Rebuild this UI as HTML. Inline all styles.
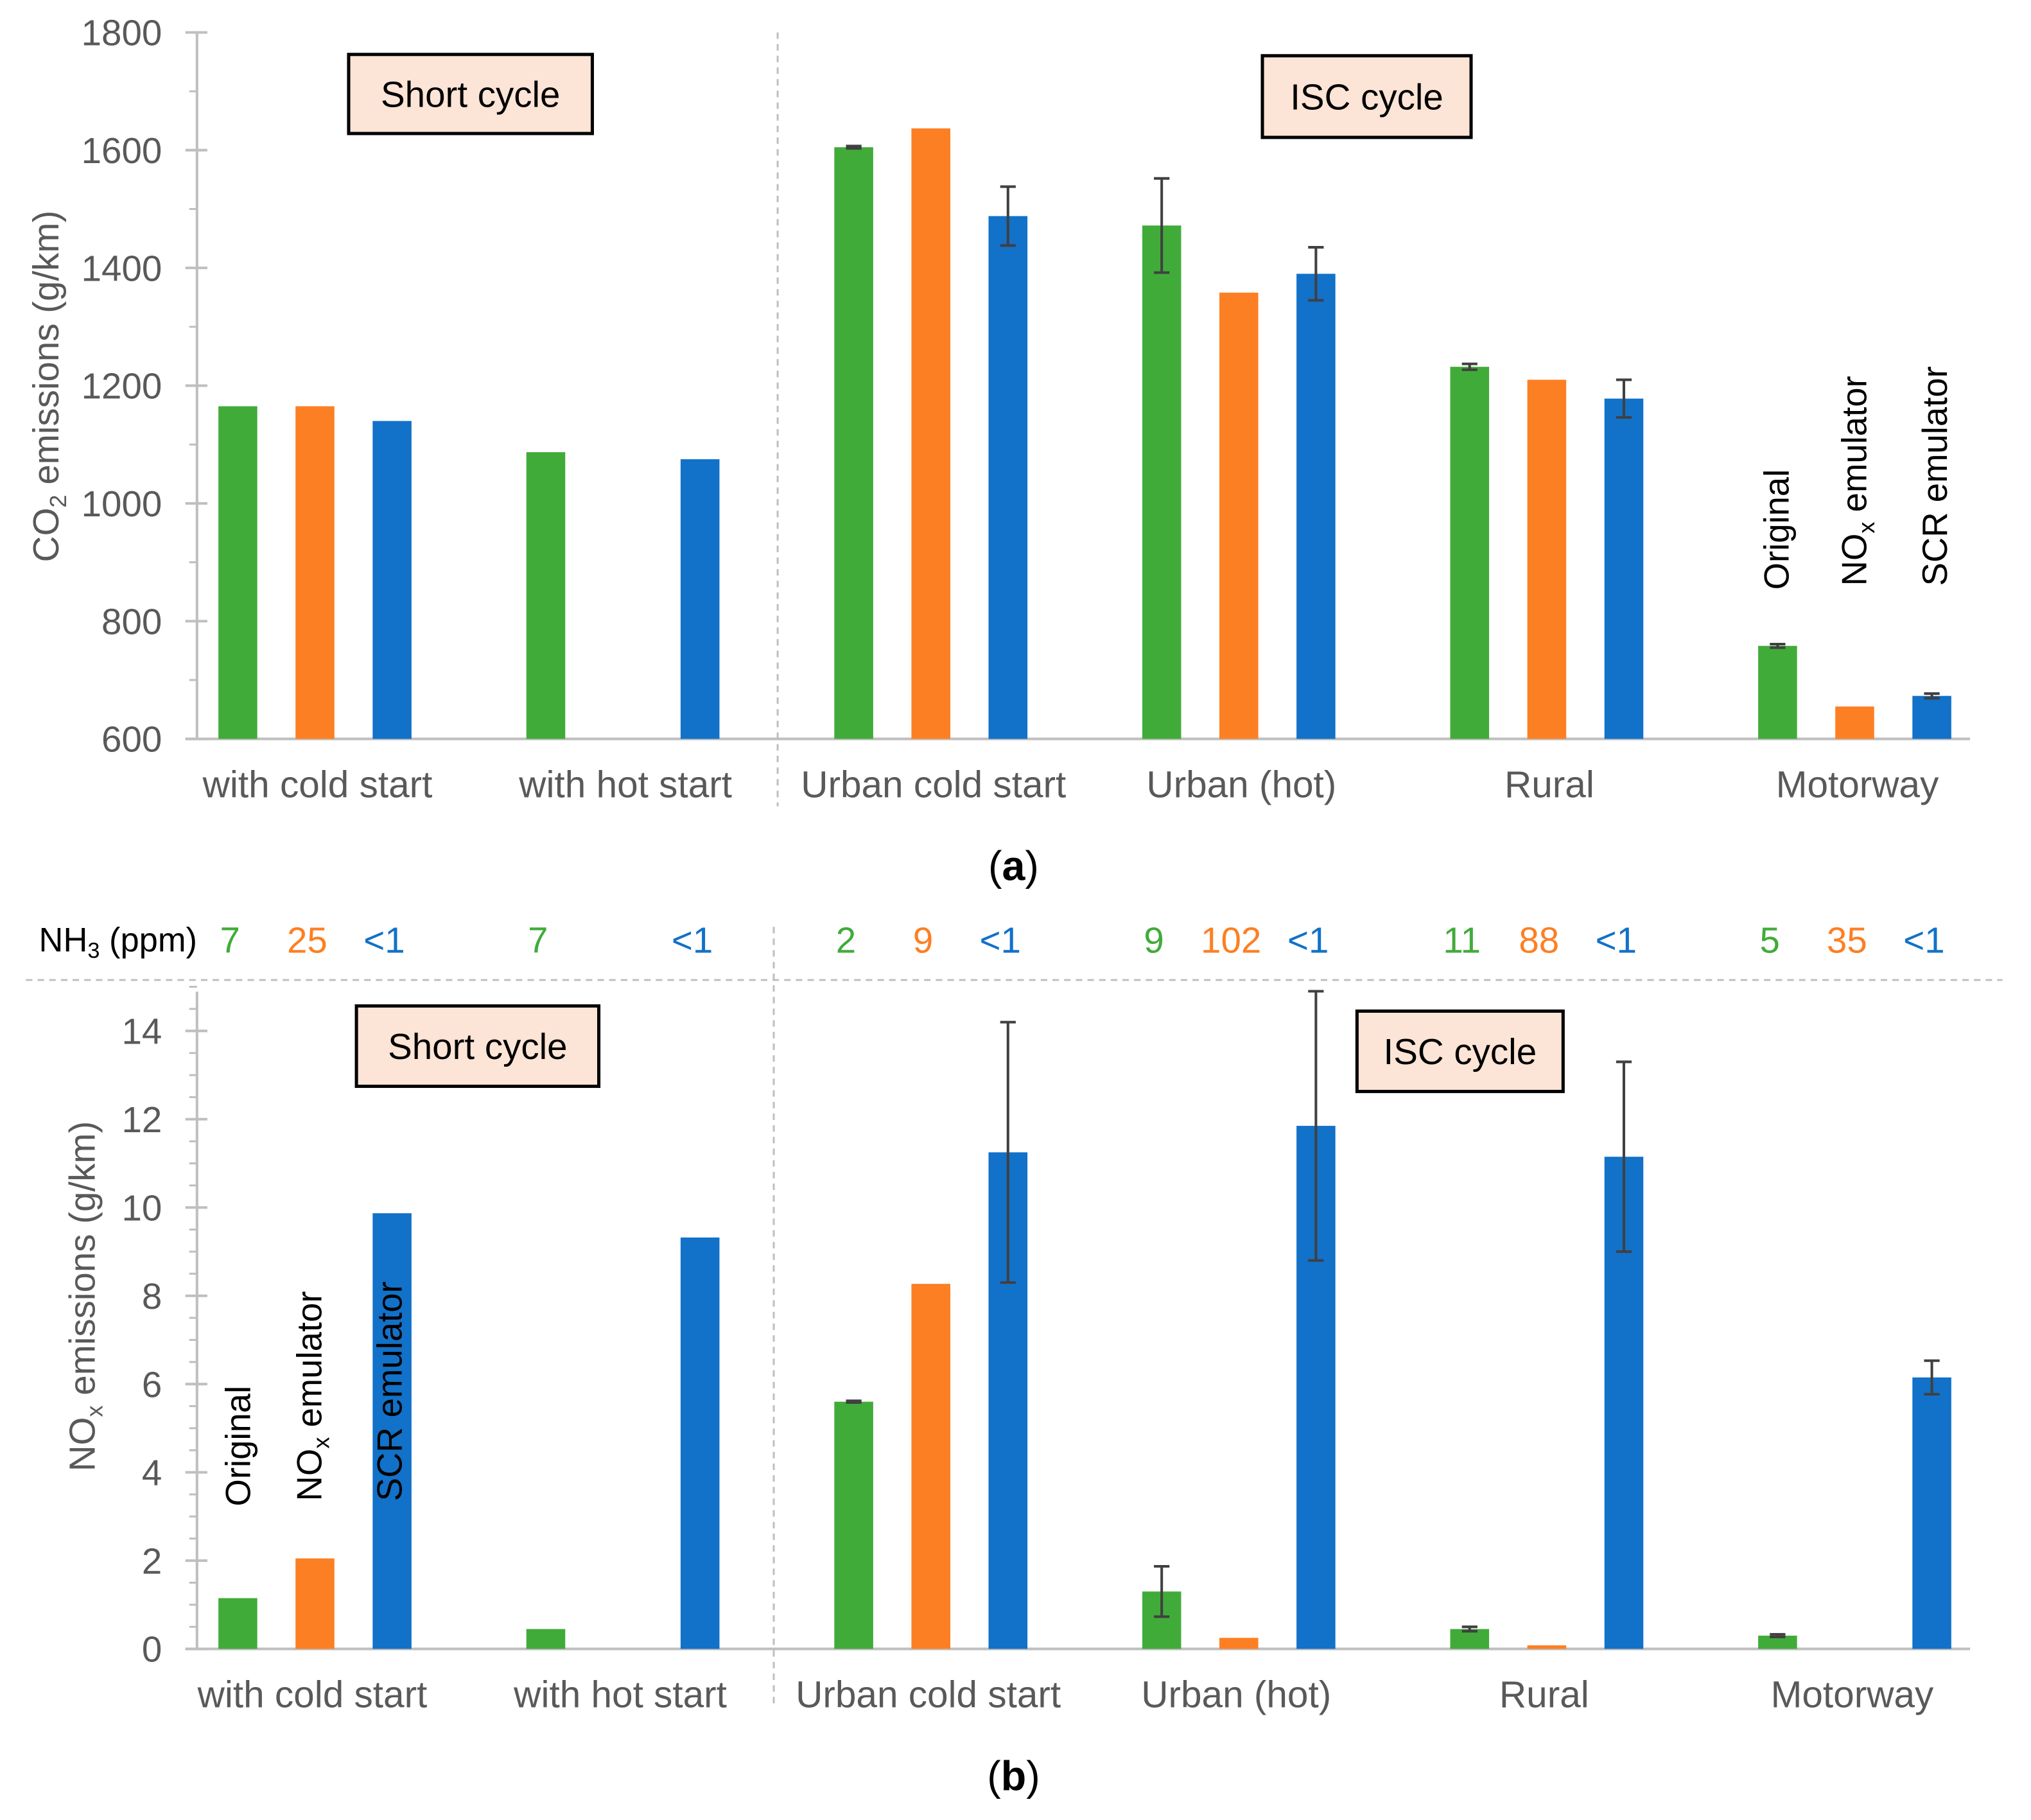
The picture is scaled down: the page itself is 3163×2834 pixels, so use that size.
<!DOCTYPE html>
<html><head><meta charset="utf-8"><style>
html,body{margin:0;padding:0;background:#fff;}
svg{display:block;}
text{font-family:"Liberation Sans",sans-serif;}
</style></head><body>
<svg id="chart" width="3163" height="2834" viewBox="0 0 1567 1404" preserveAspectRatio="none" xmlns="http://www.w3.org/2000/svg"></svg>
<script>
const categories = ["with cold start","with hot start","Urban cold start","Urban (hot)","Rural","Motorway"];
const seriesNames = ["Original","NOx emulator","SCR emulator"];
const co2Original = [1165,1087,1605,1472,1232,758];
const co2NoxEmu = [1165,null,1637,1358,1210,655];
const co2Scr = [1140,1075,1488,1390,1178,673];
const co2ErrOriginal = [0,0,2,80,5,3];
const co2ErrNoxEmu = [0,0,0,0,0,0];
const co2ErrScr = [0,0,50,45,32,4];
const co2Ticks = [600,800,1000,1200,1400,1600,1800];
const noxOriginal = [1.15,0.45,5.6,1.3,0.45,0.3];
const noxNoxEmu = [2.05,null,8.27,0.25,0.08,0];
const noxScr = [9.87,9.32,11.25,11.85,11.15,6.15];
const noxErrOriginal = [0,0,0.02,0.57,0.05,0.03];
const noxErrNoxEmu = [0,0,0,0,0,0];
const noxErrScr = [0,0,2.95,3.05,2.15,0.38];
const noxTicks = [0,2,4,6,8,10,12,14];
const nh3Original = ["7","7","2","9","11","5"];
const nh3NoxEmu = ["25","","9","102","88","35"];
const nh3Scr = ["<1","<1","<1","<1","<1","<1"];

const NS="http://www.w3.org/2000/svg";
const svg=document.getElementById('chart');
const colors=["#41ab3a","#fd7f23","#1271c8"];
function mk(tag,attrs,parent){const e=document.createElementNS(NS,tag);for(const k in attrs)e.setAttribute(k,attrs[k]);(parent||svg).appendChild(e);return e;}
function catX(i){return 243+i*237.6;}
function barX(i,s){return catX(i)+(s-1)*59.5;}

function drawPanel(cfg){
  const g=mk('g',{});
  
  
  const y=v=>cfg.y0-(v-cfg.min)/(cfg.max-cfg.min)*(cfg.y0-cfg.y1);
  const ax=mk('line',{x1:152,y1:cfg.axTop,x2:152,y2:cfg.y0,stroke:'#bfbfbf','stroke-width':2},g);
  
  const bx=mk('line',{x1:143,y1:cfg.y0,x2:1520,y2:cfg.y0,stroke:'#bfbfbf','stroke-width':2},g);
  
  for(let v=cfg.min;v<=cfg.max+1e-9;v+=cfg.minor){
    mk('line',{x1:146,y1:y(v),x2:152,y2:y(v),stroke:'#bfbfbf','stroke-width':1.5},g);
  }
  cfg.ticks.forEach(t=>{
    mk('line',{x1:143,y1:y(t),x2:160,y2:y(t),stroke:'#bfbfbf','stroke-width':2},g);
    const tl=mk('text',{x:125,y:y(t)+10,'text-anchor':'end','font-size':28,fill:'#595959'},g);
    tl.textContent=t;
    
  });
  const sep=mk('line',{x1:cfg.sepX,y1:cfg.sepTop,x2:cfg.sepX,y2:cfg.sepBot,stroke:'#bfbfbf','stroke-width':1.5,'stroke-dasharray':'5,4'},g);
  
  const vals=[cfg.s0,cfg.s1,cfg.s2], errs=[cfg.e0,cfg.e1,cfg.e2];
  categories.forEach((c,i)=>{
    for(let s=0;s<3;s++){
      const v=vals[s][i]; if(v===null) continue;
      const x=barX(i,s)-15;
      const top=y(Math.max(v,cfg.min));
      const r=mk('rect',{x:x,y:top,width:30,height:Math.max(cfg.y0-top,0),fill:colors[s]},g);
      
      const e=errs[s][i];
      if(e>0){
        const cx=barX(i,s);
        const eb=mk('path',{d:`M${cx},${y(v+e)}V${y(v-e)}M${cx-6},${y(v+e)}H${cx+6}M${cx-6},${y(v-e)}H${cx+6}`,stroke:'#404040','stroke-width':2,fill:'none'},g);
        
      }
    }
    const cl=mk('text',{x:catX(i)+cfg.labDx,y:cfg.labY,'text-anchor':'middle','font-size':29,fill:'#595959'},g);
    cl.textContent=c;
    
  });
  cfg.boxes.forEach(b=>{
    const bg=mk('g',{},g);
    
    mk('rect',{x:b[0],y:b[1],width:b[2],height:b[3],fill:'#fce4d6',stroke:'#000','stroke-width':2.5},bg);
    const t=mk('text',{x:b[0]+b[2]/2,y:b[1]+b[3]/2+10,'text-anchor':'middle','font-size':28,fill:'#000'},bg);
    t.textContent=b[4];
  });
  cfg.vlabels.forEach(l=>{
    const t=mk('text',{x:l[0],y:l[1],transform:`rotate(-90 ${l[0]} ${l[1]})`,'font-size':27,fill:'#000'},g);
    
    if(l[2]==='NOx'){t.innerHTML='NO<tspan font-size="18" dy="6">x</tspan><tspan dy="-6"> emulator</tspan>';}
    else t.textContent=l[2];
  });
  const yt=mk('text',{x:cfg.titleX,y:cfg.titleY,transform:`rotate(-90 ${cfg.titleX} ${cfg.titleY})`,'text-anchor':'middle','font-size':28,fill:'#595959'},g);
  
  yt.innerHTML=cfg.title;
  const pl=mk('text',{x:782,y:cfg.panelY,'text-anchor':'middle','font-size':32,fill:'#000','font-family':'Liberation Serif, serif'},g);
  pl.innerHTML='(<tspan font-weight="bold">'+cfg.panel+'</tspan>)';
  
}

drawPanel({name:'co2-panel',min:600,max:1800,y0:570,y1:25,axTop:25,minor:100,ticks:co2Ticks,
  s0:co2Original,s1:co2NoxEmu,s2:co2Scr,e0:co2ErrOriginal,e1:co2ErrNoxEmu,e2:co2ErrScr,
  sepX:600,sepTop:25,sepBot:622,labY:615,labDx:2,
  boxes:[[269,42,188,61,'Short cycle'],[974,43,161,63,'ISC cycle']],
  vlabels:[[1380,455,'Original'],[1440,452,'NOx'],[1502,452,'SCR emulator']],
  titleX:45,titleY:298,title:'CO<tspan font-size="18" dy="6">2</tspan><tspan dy="-6"> emissions (g/km)</tspan>',
  panel:'a',panelY:679});

drawPanel({name:'nox-panel',min:0,max:15,y0:1272,y1:1272-15*34.05,axTop:765,minor:0.5,ticks:noxTicks,
  s0:noxOriginal,s1:noxNoxEmu,s2:noxScr,e0:noxErrOriginal,e1:noxErrNoxEmu,e2:noxErrScr,
  sepX:597,sepTop:715,sepBot:1315,labY:1317,labDx:-2,
  boxes:[[275,776,187,62,'Short cycle'],[1047,780,159,62,'ISC cycle']],
  vlabels:[[193,1162,'Original'],[248,1158,'NOx'],[310,1158,'SCR emulator']],
  titleX:73,titleY:1000,title:'NO<tspan font-size="18" dy="6">x</tspan><tspan dy="-6"> emissions (g/km)</tspan>',
  panel:'b',panelY:1381});

const hl=mk('line',{x1:20,y1:756,x2:1545,y2:756,stroke:'#bfbfbf','stroke-width':1.5,'stroke-dasharray':'5,4'});

const nt=mk('text',{x:30,y:734,'font-size':26,fill:'#000'});

nt.innerHTML='NH<tspan font-size="17" dy="5">3</tspan><tspan dy="-5"> (ppm)</tspan>';
const nh3=[nh3Original,nh3NoxEmu,nh3Scr];
categories.forEach((c,i)=>{for(let s=0;s<3;s++){
  if(!nh3[s][i]) continue;
  const t=mk('text',{x:barX(i,s)-6,y:735,'text-anchor':'middle','font-size':28,fill:colors[s]});
  t.textContent=nh3[s][i];
  
}});
</script>
</body></html>
